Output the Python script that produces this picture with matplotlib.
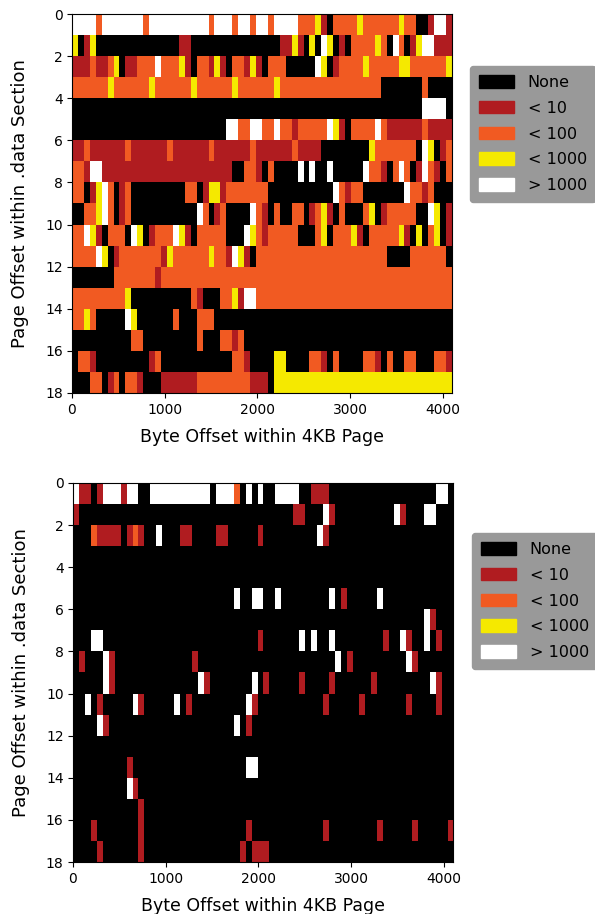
import matplotlib
matplotlib.use('Agg')
import matplotlib.pyplot as plt
from matplotlib.colors import ListedColormap
from matplotlib.patches import Patch
import numpy as np

labels = ['None', '< 10', '< 100', '< 1000', '> 1000']
colors = ['#000000', '#B01C20', '#F15A22', '#F5E900', '#FFFFFF']
codes = {'N': 0, 'r': 1, 'o': 2, 'y': 3, 'w': 4}

x_ticks = [0, 1000, 2000, 3000, 4000]
y_ticks = [0, 2, 4, 6, 8, 10, 12, 14, 16, 18]

# one string per page, runs of cache lines (64 per page): code + run length
top_rows = [
  'w4 o1 w7 o1 w10 o1 w3 o1 w2 o1 w2 o1 w4 o3 y1 r1 N1 o4 y1 o6 y1 o2 N2 r1 w2 r1',
  'y1 N1 r1 y1 N14 r2 N15 r2 y1 r1 N1 y1 N1 w1 y1 N1 r1 N1 o4 y1 o1 N1 w1 o1 N1 r1 y1 w2 r3',
  'r3 o1 r2 o1 y1 N1 r2 o3 w1 o3 y1 r1 N1 o2 r1 y1 r1 N1 o2 r1 y1 r1 N1 o3 N5 w1 y1 N1 r1 o4 y1 o5 y2 o6 y1',
  'o6 y1 o6 y1 o6 y1 o6 y1 o6 y1 o17 N7 o1 N4',
  'N59 w4 N1',
  'N26 w2 o2 w2 o2 w1 o2 r1 o5 w1 y1 r1 N1 o4 w1 o1 r6 o1 r4',
  'r2 o1 r6 o1 r6 o1 r6 o1 r6 o1 r6 o1 r4 N8 y1 o7 N1 w1 y1 N1 r1 o1',
  'o2 r1 w2 r22 N2 o2 r1 N1 o1 N4 w1 N1 w1 N2 w1 N5 w1 o2 r1 N1 o1 w1 o1 N1 r1 w1 o1 r1 N1 o1',
  'o2 N1 r1 y1 w1 o1 N1 r1 o1 N9 o2 N1 r1 y2 r1 o7 N11 w1 o1 r1 o2 N7 w1 o2 r1 o1 N3',
  'N2 o2 y1 w1 o1 N1 r1 o1 N11 w1 o1 N1 r1 o1 N4 w1 o1 r1 N1 o1 N2 o2 N1 r1 o1 y1 r1 N1 o1 N3 o1 y1 N1 r1 o5 N2 w1 y1 N1 r1',
  'o2 w1 y1 r1 N1 o3 N1 w1 y1 N1 r1 o3 w1 y1 r1 N1 o5 N3 w1 y1 o1 r1 o5 N3 o1 y1 N1 o3 y1 r1 N1 o5 y1 r1 N1 y1 N1 o1 y1 N1 r1',
  'o4 w1 y1 N1 r1 o7 r1 y1 o6 y1 o2 r1 w1 y1 r1 N1 o22 N4 o6 N1',
  'N7 o7 r1 o49',
  'o9 y1 N10 o1 r1 N3 o2 y1 r1 w2 o33',
  'o2 y1 o1 N5 w1 y1 N6 o1 N3 o3 N40',
  'N10 o2 N9 o1 N3 o2 r1 o1 N35',
  'N1 o2 r1 N9 r1 o1 N12 o2 r1 N4 y2 N4 o2 r1 N1 o1 N4 o2 r1 N1 o1 N2 o2 N3 o2 r1',
  'N3 o2 N1 r1 o1 N1 o2 r1 N3 r6 o9 r3 N1 y30',
]

bottom_rows = [
  'w1 r2 N1 r1 w3 r1 w2 N2 w10 N1 w3 o1 N1 w1 N1 w1 N2 w4 N2 r3 N18 w2 N1',
  'r1 N36 r2 N3 w1 r1 N10 w1 r1 N3 w2 N3',
  'N3 o1 r4 N1 r1 o1 r1 N2 w1 N3 r2 N4 r2 N5 r1 N9 w1 r1 N21',
  'N64',
  'N64',
  'N27 w1 N2 w2 N2 w1 N8 w1 N1 r1 N5 w1 N12',
  'N59 w1 r1 N3',
  'N3 w2 N26 r1 N6 w1 N1 w1 N2 w1 N8 r1 N2 w1 r1 N2 w1 N1 r1 N2',
  'N1 r1 N3 w1 r1 N13 r1 N23 w1 N1 r1 N9 w1 r1 N6',
  'N5 w1 r1 N14 w1 r1 N7 w1 N1 r1 N5 r1 N4 r1 N6 r1 N9 w1 r1 N2',
  'N2 w1 N1 r1 N5 w1 r1 N5 w1 N1 r1 N9 w1 r1 N11 r1 N5 r1 N7 r1 N4 r1 N2',
  'N4 w1 r1 N21 w1 N1 r1 N34',
  'N64',
  'N9 r1 N19 w2 N33',
  'N9 w1 r1 N53',
  'N11 r1 N52',
  'N3 r1 N7 r1 N17 r1 N12 r1 N8 r1 N5 r1 N5 r1',
  'N4 r1 N6 r1 N16 r1 N1 r3 N31',
]


def expand(rows):
  grid = []
  for row in rows:
    line = []
    for run in row.split():
      line += [codes[run[0]]] * int(run[1:])
    if len(line) != 64:
      print('bad row length', len(line), row)
    grid.append(line)
  return np.array(grid)


W = 595.0
H = 914.0
cmap = ListedColormap(colors)
fig = plt.figure(figsize=(W / 100, H / 100), dpi=100)


def heat(rows, left, right, top, bottom, leg_left, leg_top):
  ax = fig.add_axes([left / W, 1 - bottom / H, (right - left) / W, (bottom - top) / H])
  ax.imshow(expand(rows), cmap=cmap, vmin=0, vmax=4, aspect='auto',
            extent=[0, 4096, 18, 0], interpolation='nearest')
  ax.set_xticks(x_ticks)
  ax.set_yticks(y_ticks)
  ax.tick_params(labelsize=10, pad=4)
  ax.tick_params(axis='y', pad=3)
  ax.set_xlabel('Byte Offset within 4KB Page', fontsize=12.5)
  ax.set_ylabel('Page Offset within .data Section', fontsize=13)
  ax.xaxis.set_label_coords(0.5, -0.093)
  ax.yaxis.set_label_coords(-0.113, 0.5)
  handles = [Patch(facecolor=c, edgecolor=c, label=l) for c, l in zip(colors, labels)]
  fig.legend(handles=handles, loc='upper left', bbox_to_anchor=(leg_left / W, 1 - leg_top / H),
             bbox_transform=fig.transFigure, fontsize=11.5, facecolor='#999999', edgecolor='#999999',
             framealpha=1, borderaxespad=0, handlelength=2.2, handleheight=0.85,
             labelspacing=0.68, handletextpad=0.85, borderpad=0.55)


heat(top_rows, 72, 451.5, 14, 393, 470, 66)
heat(bottom_rows, 72.7, 453, 483, 862, 472, 533)

fig.savefig('out.png', dpi=100)
